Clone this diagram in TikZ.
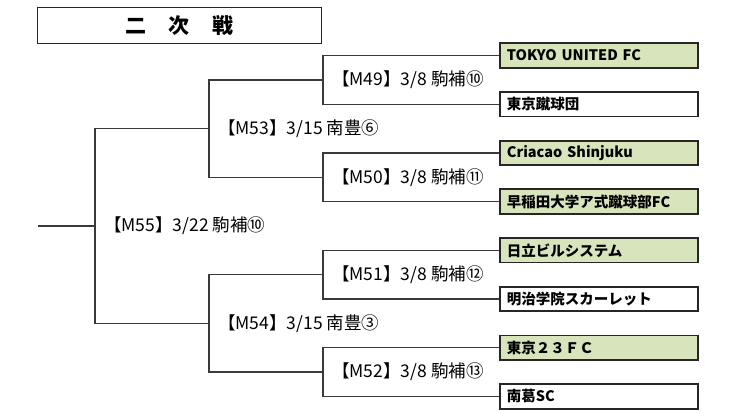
\documentclass[tikz,border=0pt]{standalone}
\usepackage{fontspec}
\setmainfont{Noto Sans CJK JP}
\newfontfamily\jpfont{Noto Sans CJK JP}
\definecolor{wingreen}{HTML}{D8E4BC}
\definecolor{linegray}{HTML}{3A3A3A}
\begin{document}
\begin{tikzpicture}[x=1pt,y=-1pt,
  team/.style={draw=black!85, line width=1.8pt, minimum width=198pt, minimum height=24.5pt,
    inner sep=0pt, anchor=west, text width=192pt, align=left,
    font=\jpfont\fontsize{14.5pt}{16pt}\selectfont\bfseries},
  winner/.style={team, fill=wingreen},
  loser/.style={team, fill=white},
  bracket/.style={draw=linegray, line width=1.3pt},
  lbl/.style={anchor=west, inner sep=0pt, font=\jpfont\fontsize{17.5pt}{19pt}\selectfont},
  titlebox/.style={draw=black!85, line width=1.8pt, minimum width=284pt, minimum height=36pt,
    inner sep=0pt, font=\jpfont\fontsize{21pt}{23pt}\selectfont\bfseries}]
\useasboundingbox (0,0) rectangle (747,416);

\node[titlebox] (title) at (179.5,25.5) {二\hspace{23pt}次\hspace{23pt}戦};

\node[winner] (t1) at (499,55.5) {\hspace{4pt}TOKYO UNITED FC};
\node[loser]  (t2) at (499,104.2) {\hspace{4pt}東京蹴球団};
\node[winner] (t3) at (499,152.9) {\hspace{4pt}Criacao Shinjuku};
\node[winner] (t4) at (499,201.6) {\hspace{4pt}早稲田大学ア式蹴球部FC};
\node[winner] (t5) at (499,250.3) {\hspace{4pt}日立ビルシステム};
\node[loser]  (t6) at (499,299) {\hspace{4pt}明治学院スカーレット};
\node[winner] (t7) at (499,347.7) {\hspace{4pt}東京２３ＦＣ};
\node[loser]  (t8) at (499,396.4) {\hspace{4pt}南葛SC};

\coordinate (m49) at (323,79.85);
\coordinate (m50) at (323,177.25);
\coordinate (m51) at (323,274.65);
\coordinate (m52) at (323,372.05);
\coordinate (m53) at (209,128.55);
\coordinate (m54) at (209,323.35);
\coordinate (m55) at (95,225.95);
\coordinate (stem) at (38,225.95);

\draw[bracket] (t1.west) -| (m49) |- (t2.west);
\draw[bracket] (t3.west) -| (m50) |- (t4.west);
\draw[bracket] (t5.west) -| (m51) |- (t6.west);
\draw[bracket] (t7.west) -| (m52) |- (t8.west);
\draw[bracket] (m49) -| (m53) |- (m50);
\draw[bracket] (m51) -| (m54) |- (m52);
\draw[bracket] (m53) -| (m55) |- (m54);
\draw[bracket] (m55) -- (stem);

\node[lbl] (l49) at ([xshift=9pt]m49) {【M49】3/8 駒補⑩};
\node[lbl] (l50) at ([xshift=9pt]m50) {【M50】3/8 駒補⑪};
\node[lbl] (l51) at ([xshift=9pt]m51) {【M51】3/8 駒補⑫};
\node[lbl] (l52) at ([xshift=9pt]m52) {【M52】3/8 駒補⑬};
\node[lbl] (l53) at ([xshift=9pt]m53) {【M53】3/15 南豊⑥};
\node[lbl] (l54) at ([xshift=9pt]m54) {【M54】3/15 南豊③};
\node[lbl] (l55) at ([xshift=9pt]m55) {【M55】3/22 駒補⑩};
\end{tikzpicture}
\end{document}
